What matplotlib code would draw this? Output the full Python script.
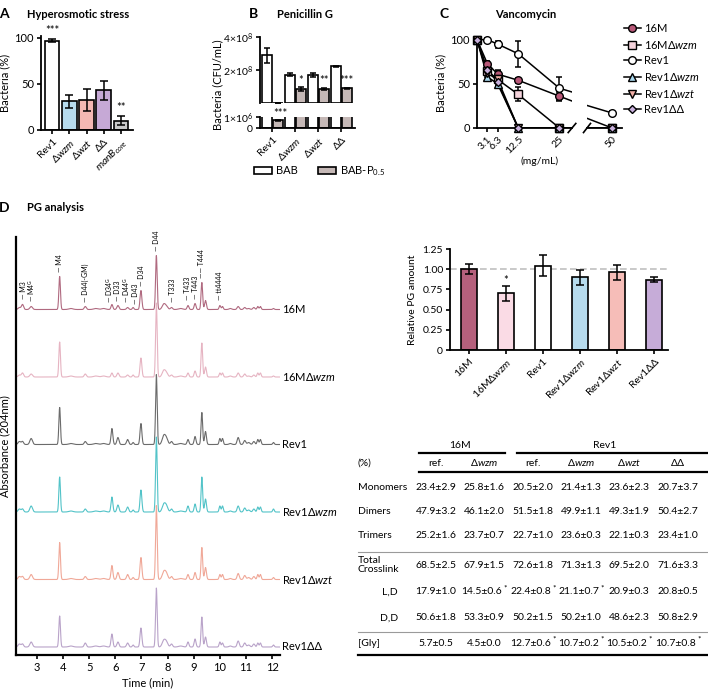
import numpy as np
import matplotlib
matplotlib.use('Agg')
import matplotlib.pyplot as plt
from matplotlib.lines import Line2D
from matplotlib.patches import Patch

plt.rcParams['font.family'] = ['Lato', 'DejaVu Sans']
plt.rcParams['mathtext.fontset'] = 'custom'
plt.rcParams['mathtext.rm'] = 'Lato'
plt.rcParams['mathtext.it'] = 'Lato:italic'
plt.rcParams['mathtext.bf'] = 'Lato:bold'
plt.rcParams['axes.linewidth'] = 1.3
plt.rcParams['xtick.major.width'] = 1.2
plt.rcParams['ytick.major.width'] = 1.2
plt.rcParams['xtick.major.size'] = 3
plt.rcParams['ytick.major.size'] = 3
plt.rcParams['xtick.major.pad'] = 2
plt.rcParams['ytick.major.pad'] = 2
plt.rcParams['font.size'] = 8

# ---- A: hyperosmotic stress
a_labels = ['Rev1', 'Δ$\\it{wzm}$', 'Δ$\\it{wzt}$', 'ΔΔ', '$\\it{manB}_{\\it{core}}$']
a_vals = [97, 31, 33, 43, 10]
a_err = [2, 7, 12, 10, 5]
a_colors = ['white', '#b7dcee', '#f4b8b3', '#c6a9d6', '#c9c9c9']
a_stars = ['***', '', '', '', '**']

# ---- B: penicillin G
b_labels = ['Rev1', 'Δ$\\it{wzm}$', 'Δ$\\it{wzt}$', 'ΔΔ']
b_bab = [2.9e8, 1.72e8, 1.7e8, 2.22e8]
b_bab_err = [0.45e8, 0.08e8, 0.1e8, 0.03e8]
b_pen = [0.7e6, 0.82e8, 0.86e8, 0.88e8]
b_pen_err = [0.05e6, 0.12e8, 0.05e8, 0.05e8]
b_stars = ['***', '*', '**', '***']

# ---- C: vancomycin
c_conc = [0, 3.125, 6.25, 12.5, 25, 50]
c_names = ['16M', '16MΔ$\\it{wzm}$', 'Rev1', 'Rev1Δ$\\it{wzm}$', 'Rev1Δ$\\it{wzt}$', 'Rev1ΔΔ']
c_vals = [[100, 73, 61, 54, 36, 0],
          [100, 65, 55, 38, 0, 0],
          [100, 100, 95, 84, 45, 17],
          [100, 58, 50, 0, 0, 0],
          [100, 62, 55, 0, 0, 0],
          [100, 66, 52, 0, 0, 0]]
c_err = [[0, 3, 5, 3, 5, 0],
         [0, 5, 10, 8, 0, 0],
         [0, 2, 4, 15, 13, 2],
         [0, 5, 5, 0, 0, 0],
         [0, 4, 6, 0, 0, 0],
         [0, 4, 5, 0, 0, 0]]
c_markers = ['o', 's', 'o', '^', 'v', 'D']
c_faces = ['#b85878', '#f5d3dc', 'white', '#a8d8ee', '#f2b0a8', '#c8b0dc']

# ---- D: chromatograms (peak retention times / heights)
strains = ['16M', '16MΔ$\\it{wzm}$', 'Rev1', 'Rev1Δ$\\it{wzm}$', 'Rev1Δ$\\it{wzt}$', 'Rev1ΔΔ']
trace_colors = ['#b06a80', '#e6b4c2', '#6b6b6b', '#52c3c8', '#f0a898', '#b9a3c9']
peak_times = [2.33, 2.45, 2.78, 3.87, 4.3, 4.85, 5.25, 5.55, 5.87, 6.1, 6.47, 6.68, 6.98, 7.57,
              7.85, 7.95, 8.15, 8.5, 8.78, 9.05, 9.31, 9.45, 10.0, 10.1, 10.4, 10.7, 10.95,
              11.1, 11.3, 11.45, 11.55, 12.05]
peak_widths = [0.05, 0.04, 0.05, 0.03, 0.08, 0.04, 0.08, 0.08, 0.035, 0.04, 0.04, 0.03, 0.035,
               0.03, 0.06, 0.06, 0.04, 0.08, 0.035, 0.035, 0.03, 0.035, 0.03, 0.03, 0.05, 0.04,
               0.04, 0.05, 0.04, 0.03, 0.03, 0.03]
peak_heights = [
    [2, 5, 3, 33, 1, 3, 1, 1, 5, 4, 2, 2, 19, 54, 5, 3, 2, 1, 4, 6, 27, 9, 4, 3, 1, 3, 2, 1, 2, 3, 3, 1],
    [2, 4, 3, 35, 1, 3, 1, 1, 4, 4, 2, 2, 19, 74, 6, 4, 2, 1, 4, 6, 34, 10, 4, 4, 1, 4, 3, 1, 2, 4, 4, 1],
    [3, 3, 6, 37, 1, 3, 1, 1, 16, 7, 5, 2, 21, 70, 8, 6, 3, 1, 5, 8, 32, 13, 6, 6, 1, 7, 4, 2, 3, 5, 5, 2],
    [3, 3, 6, 35, 1, 3, 1, 1, 15, 7, 5, 2, 22, 75, 7, 6, 3, 1, 6, 8, 35, 13, 6, 6, 1, 6, 4, 2, 3, 5, 5, 3],
    [3, 3, 5, 37, 1, 3, 1, 1, 14, 7, 5, 2, 22, 74, 7, 6, 3, 1, 5, 7, 32, 12, 5, 5, 1, 6, 4, 2, 3, 5, 5, 2],
    [3, 3, 5, 31, 1, 4, 1, 1, 13, 5, 4, 2, 19, 59, 6, 5, 3, 1, 5, 8, 30, 10, 5, 4, 1, 6, 4, 2, 3, 4, 4, 2]]
peak_names = ['M3', 'M4$^{\\mathrm{G}}$', 'M4', 'D44(-GM)', 'D34$^{\\mathrm{G}}$', 'D33',
              'D44$^{\\mathrm{G}}$', 'D43', 'D34', 'D44', 'T333', 'T433', 'T443', 'T444', 'tt4444']
peak_name_times = [2.47, 2.8, 3.87, 4.85, 5.76, 6.1, 6.44, 6.78, 7.0, 7.57, 8.2, 8.78, 9.08,
                   9.31, 10.0]

# ---- D: relative PG amount
pg_labels = ['16M', '16MΔ$\\it{wzm}$', 'Rev1', 'Rev1Δ$\\it{wzm}$', 'Rev1Δ$\\it{wzt}$', 'Rev1ΔΔ']
pg_vals = [1.00, 0.70, 1.04, 0.90, 0.96, 0.87]
pg_err = [0.06, 0.09, 0.13, 0.09, 0.09, 0.03]
pg_colors = ['#b5607c', '#fadbe5', 'white', '#b7dcee', '#f6bdb8', '#c6acd8']

# ---- D: table
tab_groups = ['16M', 'Rev1']
tab_cols = ['ref.', 'Δ$\\it{wzm}$', 'ref.', 'Δ$\\it{wzm}$', 'Δ$\\it{wzt}$', 'ΔΔ']
tab_rows = ['Monomers', 'Dimers', 'Trimers', 'Total\nCrosslink', 'L,D', 'D,D', '[Gly]']
tab_vals = [
    ['23.4±2.9', '25.8±1.6', '20.5±2.0', '21.4±1.3', '23.6±2.3', '20.7±3.7'],
    ['47.9±3.2', '46.1±2.0', '51.5±1.8', '49.9±1.1', '49.3±1.9', '50.4±2.7'],
    ['25.2±1.6', '23.7±0.7', '22.7±1.0', '23.6±0.3', '22.1±0.3', '23.4±1.0'],
    ['68.5±2.5', '67.9±1.5', '72.6±1.8', '71.3±1.3', '69.5±2.0', '71.6±3.3'],
    ['17.9±1.0', '14.5±0.6*', '22.4±0.8*', '21.1±0.7*', '20.9±0.3', '20.8±0.5'],
    ['50.6±1.8', '53.3±0.9', '50.2±1.5', '50.2±1.0', '48.6±2.3', '50.8±2.9'],
    ['5.7±0.5', '4.5±0.0', '12.7±0.6*', '10.7±0.2*', '10.5±0.2*', '10.7±0.8*']]

W, H = 708, 689
fig = plt.figure(figsize=(W / 100, H / 100), dpi=100)


def add_ax(l, t, r, b):
    return fig.add_axes([l / W, 1 - b / H, (r - l) / W, (b - t) / H])


def ftext(x, y, s, **kw):
    fig.text(x / W, 1 - y / H, s, **kw)


def fline(x0, x1, y, lw, color='black'):
    fig.add_artist(Line2D([x0 / W, x1 / W], [1 - y / H, 1 - y / H], lw=lw, color=color))


def clean(ax):
    ax.spines['top'].set_visible(False)
    ax.spines['right'].set_visible(False)


ekw = dict(elinewidth=1.1, capthick=1.1, ecolor='black')

# panel letters and titles
ftext(4, 14, 'A', fontsize=10, fontweight='bold', va='center', ha='center')
ftext(27, 14, 'Hyperosmotic stress', fontsize=8, fontweight='bold', va='center')
ftext(253, 14, 'B', fontsize=10, fontweight='bold', va='center', ha='center')
ftext(277, 14, 'Penicillin G', fontsize=8, fontweight='bold', va='center')
ftext(444, 14, 'C', fontsize=10, fontweight='bold', va='center', ha='center')
ftext(495, 14, 'Vancomycin', fontsize=8, fontweight='bold', va='center')
ftext(4, 208, 'D', fontsize=10, fontweight='bold', va='center', ha='center')
ftext(27, 208, 'PG analysis', fontsize=8, fontweight='bold', va='center')

# ===== A
axA = add_ax(41, 36, 133, 130)
xa = np.arange(len(a_labels))
axA.bar(xa, a_vals, width=0.85, color=a_colors, edgecolor='black', linewidth=1.2,
        yerr=a_err, capsize=3, error_kw=ekw)
for i, s in enumerate(a_stars):
    axA.text(i, a_vals[i] + a_err[i] + 9, s, ha='center', va='center', fontsize=8, clip_on=False)
axA.set_xlim(-0.65, 4.7)
axA.set_ylim(0, 102)
axA.set_yticks([0, 50, 100])
axA.set_xticks(xa)
axA.set_xticklabels(a_labels, rotation=45, ha='right', rotation_mode='anchor', fontsize=7.5)
axA.set_ylabel('Bacteria (%)', fontsize=8, labelpad=3)
clean(axA)

# ===== B (broken y axis)
axBt = add_ax(260, 37, 355, 103)
axBb = add_ax(260, 117, 355, 128)
xb = np.arange(len(b_labels))
for ax in (axBt, axBb):
    ax.bar(xb - 0.23, b_bab, 0.42, color='white', edgecolor='black', linewidth=1.2,
           yerr=b_bab_err, capsize=2.5, error_kw=ekw)
    ax.bar(xb + 0.23, b_pen, 0.42, color='#c5b8b6', edgecolor='black', linewidth=1.2,
           yerr=b_pen_err, capsize=2.5, error_kw=ekw)
    ax.set_xlim(-0.54, 3.59)
    clean(ax)
axBt.set_ylim(0, 4e8)
axBt.set_yticks([2e8, 4e8])
axBt.set_yticklabels(['2×10$^8$', '4×10$^8$'], fontsize=7.5)
axBt.spines['bottom'].set_visible(False)
axBt.set_xticks([])
axBb.set_ylim(0, 1e6)
axBb.set_yticks([0, 1e6])
axBb.set_yticklabels(['0', '1×10$^6$'], fontsize=7.5)
axBb.set_xticks(xb)
axBb.set_xticklabels(b_labels, rotation=45, ha='right', rotation_mode='anchor', fontsize=7.5)
for i, s in enumerate(b_stars[1:], start=1):
    axBt.text(i + 0.23, b_pen[i] + b_pen_err[i] + 0.45e8, s, ha='center', va='center', fontsize=8)
ftext(280, 114, b_stars[0], ha='center', va='center', fontsize=8)
ftext(218, 85, 'Bacteria (CFU/mL)', rotation=90, ha='center', va='center', fontsize=8)
fig.legend([Patch(facecolor='white', edgecolor='black', lw=1.2),
            Patch(facecolor='#c5b8b6', edgecolor='black', lw=1.2)],
           ['BAB', 'BAB-P$_{0.5}$'], ncol=2, loc='center left',
           bbox_to_anchor=(254 / W, 1 - 171 / H), frameon=False, fontsize=8,
           handlelength=1.6, handleheight=0.6, handletextpad=0.4, columnspacing=1.8,
           borderpad=0, borderaxespad=0)

# ===== C (broken x axis)
axC1 = add_ax(477, 37, 572, 128)
axC2 = add_ax(587, 37, 622, 128)
for ax, lo, hi in ((axC1, 0, 28.8), (axC2, 42.4, 53.0)):
    for vals, errs, mk, fc in zip(c_vals, c_err, c_markers, c_faces):
        ax.errorbar(c_conc, vals, yerr=errs, color='black', lw=1.1, capsize=2.5,
                    capthick=1.1, elinewidth=1.1, zorder=2)
        inside = [(c, v) for c, v in zip(c_conc, vals) if lo <= c <= hi]
        ax.plot([p[0] for p in inside], [p[1] for p in inside], ls='none', marker=mk,
                mfc=fc, mec='black', mew=1.0, ms=5.5 if mk != 'D' else 4.5,
                clip_on=False, zorder=3)
    ax.set_xlim(lo, hi)
    ax.set_ylim(0, 103)
    clean(ax)
axC1.set_yticks([0, 50, 100])
axC1.set_xticks([3.125, 6.25, 12.5, 25])
axC1.set_xticklabels(['3.1', '6.3', '12.5', '25'], rotation=45, ha='right',
                     rotation_mode='anchor', fontsize=7.5)
axC1.set_ylabel('Bacteria (%)', fontsize=8, labelpad=3)
axC2.spines['left'].set_visible(False)
axC2.set_yticks([])
axC2.set_xticks([50])
axC2.set_xticklabels(['50'], rotation=45, ha='right', rotation_mode='anchor', fontsize=7.5)
axC1.plot([0.96, 1.04], [-0.05, 0.05], transform=axC1.transAxes, color='black', lw=1.2,
          clip_on=False)
axC2.plot([-0.1, 0.1], [-0.05, 0.05], transform=axC2.transAxes, color='black', lw=1.2,
          clip_on=False)
ftext(540, 161, '(mg/mL)', ha='center', va='center', fontsize=7.5)
c_handles = [Line2D([], [], color='black', lw=1.1, marker=mk, mfc=fc, mec='black',
                    ms=5.5 if mk != 'D' else 4.5) for mk, fc in zip(c_markers, c_faces)]
fig.legend(c_handles, c_names, loc='upper left', bbox_to_anchor=(624 / W, 1 - 23 / H),
           frameon=False, fontsize=8, handlelength=1.5, handletextpad=0.3,
           labelspacing=0.42, borderpad=0, borderaxespad=0)

# ===== D chromatograms
axD = add_ax(16, 237, 280, 655)
t = np.linspace(2.2, 12.3, 3000)
n = len(strains)
spacing = 67.5
traces = []
for i, (name, hts, col) in enumerate(zip(strains, peak_heights, trace_colors)):
    base = (n - 1 - i) * spacing + 8
    y = np.full_like(t, base)
    for pt, pw, ph in zip(peak_times, peak_widths, hts):
        y += ph * np.exp(-0.5 * ((t - pt) / pw) ** 2)
    traces.append(y)
    axD.plot(t, y, color=col, lw=0.8)
    axD.text(12.38, base, name, ha='left', va='center', fontsize=8, clip_on=False)
top = traces[0]
for nm, tm in zip(peak_names, peak_name_times):
    m = np.abs(t - tm) < 0.06
    yl = top[m].max() + 5
    lab = '—— ' + nm if nm == 'T444' else '— ' + nm
    axD.text(tm, yl, lab, rotation=90, ha='center', va='bottom', fontsize=5)
axD.set_xlim(2.2, 12.3)
axD.set_ylim(0, 418)
axD.set_yticks([])
axD.set_xticks(range(3, 13))
axD.tick_params(axis='x', labelsize=8)
axD.set_xlabel('Time (min)', fontsize=8, labelpad=3)
axD.set_ylabel('Absorbance (204nm)', fontsize=8, labelpad=4)
axD.spines['left'].set_linewidth(1.6)
axD.spines['bottom'].set_linewidth(1.6)
clean(axD)

# ===== D relative PG amount
axP = add_ax(450, 249, 668, 350)
xp = np.arange(len(pg_labels))
axP.axhline(1.0, color='#c0c0c0', lw=1.2, ls=(0, (4, 2)), zorder=0)
axP.bar(xp, pg_vals, width=0.42, color=pg_colors, edgecolor='black', linewidth=1.2,
        yerr=pg_err, capsize=3, error_kw=ekw)
axP.text(1, pg_vals[1] + pg_err[1] + 0.07, '*', ha='center', va='center', fontsize=8)
axP.set_xlim(-0.51, 5.38)
axP.set_ylim(0, 1.25)
axP.set_yticks([0, 0.25, 0.5, 0.75, 1.0, 1.25])
axP.set_yticklabels(['0', '0.25', '0.50', '0.75', '1.00', '1.25'], fontsize=7.5)
axP.set_xticks(xp)
axP.set_xticklabels(pg_labels, rotation=45, ha='right', rotation_mode='anchor', fontsize=7.5)
axP.set_ylabel('Relative PG amount', fontsize=7.5, labelpad=4)
clean(axP)

# ===== D table
col_x = [436, 484, 533, 581, 629, 678]
row_y = [487, 512, 536, 565, 592, 618, 643]
ftext(460, 445, tab_groups[0], ha='center', va='center', fontsize=7.5)
ftext(605, 445, tab_groups[1], ha='center', va='center', fontsize=7.5)
ftext(358, 463, '(%)', ha='left', va='center', fontsize=7.5)
for cx, cl in zip(col_x, tab_cols):
    ftext(cx, 463, cl, ha='center', va='center', fontsize=7.5)
for ry, rl, vals in zip(row_y, tab_rows, tab_vals):
    if rl in ('L,D', 'D,D'):
        ftext(398, ry, rl, ha='right', va='center', fontsize=7.5)
    else:
        ftext(358, ry, rl, ha='left', va='center', fontsize=7.5, linespacing=1.1)
    for cx, v in zip(col_x, vals):
        if v.endswith('*'):
            ftext(cx - 2, ry, v[:-1], ha='center', va='center', fontsize=7.5)
            ftext(cx + 19, ry - 4, '*', ha='left', va='center', fontsize=6)
        else:
            ftext(cx, ry, v, ha='center', va='center', fontsize=7.5)
fline(419, 505, 453, 1.6)
fline(517, 708, 453, 1.6)
fline(419, 708, 472, 1.6)
fline(358, 708, 552, 0.8, '#9a9a9a')
fline(358, 708, 632, 0.8, '#9a9a9a')
fline(358, 708, 655, 1.6)

fig.savefig('out.png', dpi=100)
